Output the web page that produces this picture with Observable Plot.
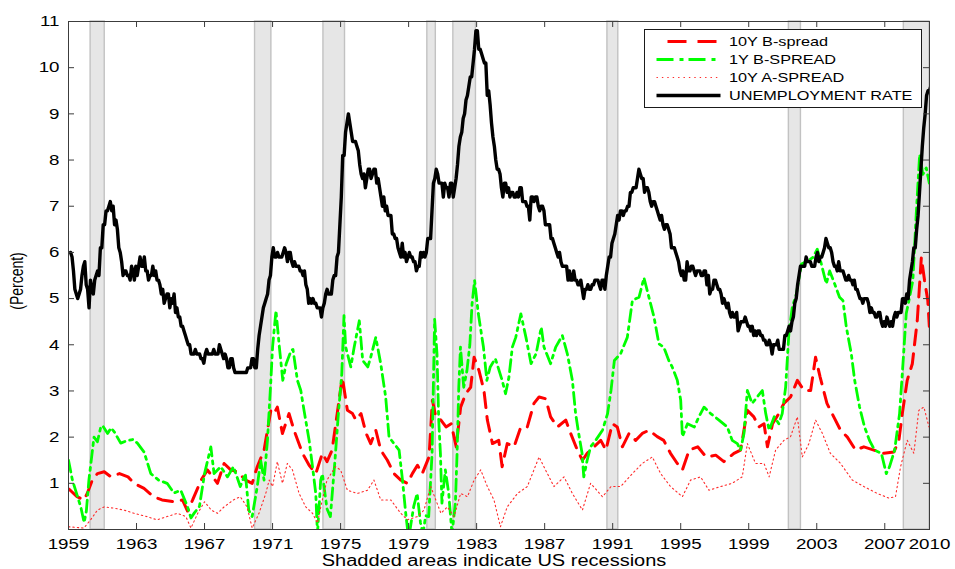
<!DOCTYPE html>
<html>
<head>
<meta charset="utf-8">
<script src="https://cdn.jsdelivr.net/npm/d3@7"></script>
<script src="https://cdn.jsdelivr.net/npm/@observablehq/plot@0.6"></script>
<style>
  html, body { margin: 0; padding: 0; background: #fff; }
  #chart svg { display: block; }
</style>
</head>
<body>
<div id="chart"></div>
<script>
// ---- Data -------------------------------------------------------------

// Monthly US unemployment rate (%), January 1959 onward.
// The first observation sits at 1959.125 on the time axis.
const unemploymentStartYear = 1959.125;
const unemploymentRate = [
  6.0,5.9,5.6,5.2,5.1,5.0,5.1,5.2,5.5,5.7,5.8,5.3,
  5.2,4.8,5.4,5.2,5.1,5.4,5.5,5.6,5.5,6.1,6.1,6.6,
  6.6,6.9,6.9,7.0,7.1,6.9,7.0,6.6,6.7,6.5,6.1,6.0,
  5.8,5.5,5.6,5.6,5.5,5.5,5.4,5.7,5.6,5.4,5.7,5.5,
  5.7,5.9,5.7,5.7,5.9,5.6,5.6,5.4,5.5,5.5,5.7,5.5,
  5.6,5.4,5.4,5.3,5.1,5.2,4.9,5.0,5.1,5.1,4.8,5.0,
  4.9,5.1,4.7,4.8,4.6,4.6,4.4,4.4,4.3,4.2,4.1,4.0,
  4.0,3.8,3.8,3.8,3.9,3.8,3.8,3.8,3.7,3.7,3.6,3.8,
  3.9,3.8,3.8,3.8,3.8,3.9,3.8,3.8,3.8,4.0,3.9,3.8,
  3.7,3.8,3.7,3.5,3.5,3.7,3.7,3.5,3.4,3.4,3.4,3.4,
  3.4,3.4,3.4,3.4,3.4,3.5,3.5,3.5,3.7,3.7,3.5,3.5,
  3.9,4.2,4.4,4.6,4.8,4.9,5.0,5.1,5.4,5.5,5.9,6.1,
  5.9,5.9,6.0,5.9,5.9,5.9,6.0,6.1,6.0,5.8,6.0,6.0,
  5.8,5.7,5.8,5.7,5.7,5.7,5.6,5.6,5.5,5.6,5.3,5.2,
  4.9,5.0,4.9,5.0,4.9,4.9,4.8,4.8,4.8,4.6,4.8,4.9,
  5.1,5.2,5.1,5.1,5.1,5.4,5.5,5.5,5.9,6.0,6.6,7.2,
  8.1,8.1,8.6,8.8,9.0,8.8,8.6,8.4,8.4,8.4,8.3,8.2,
  7.9,7.7,7.6,7.7,7.4,7.6,7.8,7.8,7.6,7.7,7.8,7.8,
  7.5,7.6,7.4,7.2,7.0,7.2,6.9,7.0,6.8,6.8,6.8,6.4,
  6.4,6.3,6.3,6.1,6.0,5.9,6.2,5.9,6.0,5.8,5.9,6.0,
  5.9,5.9,5.8,5.8,5.6,5.7,5.7,6.0,5.9,6.0,5.9,6.0,
  6.3,6.3,6.3,6.9,7.5,7.6,7.8,7.7,7.5,7.5,7.5,7.2,
  7.5,7.4,7.4,7.2,7.5,7.5,7.2,7.4,7.6,7.9,8.3,8.5,
  8.6,8.9,9.0,9.3,9.4,9.6,9.8,9.8,10.1,10.4,10.8,10.8,
  10.4,10.4,10.3,10.2,10.1,10.1,9.4,9.5,9.2,8.8,8.5,8.3,
  8.0,7.8,7.8,7.7,7.4,7.2,7.5,7.5,7.3,7.4,7.2,7.3,
  7.3,7.2,7.2,7.3,7.2,7.4,7.4,7.1,7.1,7.1,7.0,7.0,
  6.7,7.2,7.2,7.1,7.2,7.2,7.0,6.9,7.0,7.0,6.9,6.6,
  6.6,6.6,6.6,6.3,6.3,6.2,6.1,6.0,5.9,6.0,5.8,5.7,
  5.7,5.7,5.7,5.4,5.6,5.4,5.4,5.6,5.4,5.4,5.3,5.3,
  5.4,5.2,5.0,5.2,5.2,5.3,5.2,5.2,5.3,5.3,5.4,5.4,
  5.4,5.3,5.2,5.4,5.4,5.2,5.5,5.7,5.9,5.9,6.2,6.3,
  6.4,6.6,6.8,6.7,6.9,6.9,6.8,6.9,6.9,7.0,7.0,7.3,
  7.3,7.4,7.4,7.4,7.6,7.8,7.7,7.6,7.6,7.3,7.4,7.4,
  7.3,7.1,7.0,7.1,7.1,7.0,6.9,6.8,6.7,6.8,6.6,6.5,
  6.6,6.6,6.5,6.4,6.1,6.1,6.1,6.0,5.9,5.8,5.6,5.5,
  5.6,5.4,5.4,5.8,5.6,5.6,5.7,5.7,5.6,5.5,5.6,5.6,
  5.6,5.5,5.5,5.6,5.6,5.3,5.5,5.1,5.2,5.2,5.4,5.4,
  5.3,5.2,5.2,5.1,4.9,5.0,4.9,4.8,4.9,4.7,4.6,4.7,
  4.6,4.6,4.7,4.3,4.4,4.5,4.5,4.5,4.6,4.5,4.4,4.4,
  4.3,4.4,4.2,4.3,4.2,4.3,4.3,4.2,4.2,4.1,4.1,4.0,
  4.0,4.1,4.0,3.8,4.0,4.0,4.0,4.1,3.9,3.9,3.9,3.9,
  4.2,4.2,4.3,4.4,4.3,4.5,4.6,4.9,5.0,5.3,5.5,5.7,
  5.7,5.7,5.7,5.9,5.8,5.8,5.8,5.7,5.7,5.7,5.9,6.0,
  5.8,5.9,5.9,6.0,6.1,6.3,6.2,6.1,6.1,6.0,5.8,5.7,
  5.7,5.6,5.8,5.6,5.6,5.6,5.5,5.4,5.4,5.5,5.4,5.4,
  5.3,5.4,5.2,5.2,5.1,5.0,5.0,4.9,5.0,5.0,5.0,4.9,
  4.7,4.8,4.7,4.7,4.6,4.6,4.7,4.7,4.5,4.4,4.5,4.4,
  4.6,4.5,4.4,4.5,4.4,4.6,4.7,4.6,4.7,4.7,4.7,5.0,
  5.0,4.9,5.1,5.0,5.4,5.6,5.8,6.1,6.1,6.5,6.8,7.3,
  7.8,8.3,8.7,9.0,9.4,9.5,9.5,9.6
];

// 10-year Baa-type spread (%), [year, value]
const bSpread10Y = [
  [1959.0,0.88],[1959.1,0.85],[1959.5,0.71],[1959.9,0.64],[1960.1,0.78],[1960.4,1.07],[1960.7,1.21],
  [1961.1,1.25],[1961.5,1.14],[1962.0,1.21],[1962.5,1.14],[1962.86,1.0],[1963.44,0.89],[1964.0,0.71],
  [1964.5,0.64],[1965.2,0.60],[1965.7,0.64],[1966.0,0.40],[1966.3,0.64],[1966.8,1.07],[1967.17,1.29],
  [1967.76,1.0],[1968.15,1.43],[1968.54,1.29],[1968.93,1.25],[1969.42,1.07],[1969.8,1.0],[1970.1,1.36],
  [1970.5,1.72],[1970.9,2.58],[1971.08,2.51],[1971.28,2.65],[1971.58,2.08],[1971.97,2.51],[1972.26,2.15],
  [1972.76,1.65],[1973.15,1.39],[1973.54,1.21],[1973.93,1.65],[1974.2,1.47],[1974.5,1.72],[1974.8,2.51],
  [1975.1,3.30],[1975.4,2.58],[1975.7,2.51],[1975.9,2.37],[1976.2,2.51],[1976.5,2.08],[1976.77,1.86],
  [1977.07,2.15],[1977.36,1.72],[1977.75,1.50],[1978.14,1.21],[1978.54,1.07],[1978.93,1.0],[1979.22,1.21],
  [1979.52,1.39],[1979.8,1.21],[1980.2,1.57],[1980.4,2.80],[1980.6,2.44],[1980.9,2.37],[1981.2,2.22],
  [1981.5,2.29],[1981.8,1.79],[1982.06,2.65],[1982.36,2.94],[1982.65,3.08],[1982.85,3.73],[1983.14,3.44],
  [1983.43,3.01],[1983.63,2.37],[1983.93,1.86],[1984.3,1.93],[1984.5,1.36],[1984.8,1.86],[1985.2,1.79],
  [1985.6,2.22],[1985.98,2.22],[1986.37,2.73],[1986.67,2.87],[1987.06,2.83],[1987.35,2.44],[1987.75,2.22],
  [1988.24,2.37],[1988.53,2.08],[1988.92,1.72],[1989.22,1.50],[1989.5,1.65],[1989.9,1.79],[1990.3,1.93],
  [1990.6,1.72],[1990.98,2.29],[1991.27,2.22],[1991.57,1.79],[1991.96,2.08],[1992.35,1.93],[1992.74,2.08],
  [1993.13,2.15],[1993.62,2.01],[1994.0,1.93],[1994.4,1.65],[1994.8,1.43],[1995.1,1.29],[1995.5,1.72],
  [1996.0,1.79],[1996.5,1.57],[1997.06,1.61],[1997.54,1.47],[1998.13,1.65],[1998.52,1.72],[1998.92,2.58],
  [1999.3,2.44],[1999.6,2.22],[1999.9,2.29],[2000.1,1.79],[2000.4,2.29],[2000.77,2.51],[2001.07,2.73],
  [2001.46,2.87],[2001.86,3.23],[2002.25,3.01],[2002.64,3.01],[2002.93,3.73],[2003.2,3.30],[2003.6,2.73],
  [2004.0,2.44],[2004.4,2.15],[2004.8,2.0],[2005.28,1.72],[2005.77,1.79],[2006.36,1.72],[2006.95,1.65],
  [2007.54,1.68],[2007.83,1.93],[2008.03,2.51],[2008.32,3.23],[2008.62,3.59],[2008.91,4.52],[2009.15,5.89],
  [2009.34,5.39],[2009.53,4.96],[2009.62,4.4]
];

// 1-year Baa-type spread (%), [year, value]
const bSpread1Y = [
  [1959.0,1.50],[1959.23,1.07],[1959.5,0.75],[1959.72,0.49],[1959.92,0.15],[1960.05,0.40],[1960.2,1.07],
  [1960.5,2.0],[1960.7,1.9],[1960.9,2.22],[1961.0,2.25],[1961.3,2.08],[1961.5,2.2],[1961.7,2.11],
  [1962.07,1.87],[1962.47,1.93],[1962.8,1.95],[1963.05,1.87],[1963.44,1.68],[1963.84,1.21],[1964.3,1.07],
  [1964.8,1.0],[1965.2,0.79],[1965.6,0.85],[1966.0,0.49],[1966.2,0.25],[1966.4,0.36],[1966.7,0.5],
  [1967.0,1.21],[1967.37,1.79],[1967.56,1.21],[1967.95,1.36],[1968.35,1.14],[1968.7,1.36],[1969.1,0.93],
  [1969.4,1.21],[1969.6,0.42],[1969.8,0.28],[1970.1,0.93],[1970.3,1.5],[1970.5,1.07],[1970.7,1.93],
  [1970.9,3.23],[1971.0,3.95],[1971.2,4.74],[1971.4,3.95],[1971.6,3.23],[1971.8,3.59],[1972.1,3.88],
  [1972.2,3.9],[1972.46,3.23],[1972.66,3.01],[1972.85,2.58],[1973.15,1.93],[1973.35,1.36],[1973.54,0.78],
  [1973.64,-0.1],[1973.83,1.07],[1973.93,1.2],[1974.2,0.45],[1974.4,0.28],[1974.67,1.5],[1974.87,2.51],
  [1975.07,3.37],[1975.2,4.63],[1975.3,3.95],[1975.6,3.52],[1975.8,3.95],[1976.1,4.52],[1976.3,3.66],
  [1976.6,3.52],[1976.77,3.73],[1977.07,4.16],[1977.36,3.59],[1977.65,2.87],[1977.85,2.0],[1978.14,1.86],
  [1978.44,1.72],[1978.64,1.07],[1978.83,0.35],[1979.0,-0.2],[1979.3,0.5],[1979.5,0.78],[1979.7,0.14],
  [1979.85,-0.1],[1980.0,0.3],[1980.18,0.28],[1980.38,1.65],[1980.53,4.55],[1980.67,3.8],[1980.77,2.37],
  [1980.87,1.65],[1980.96,0.57],[1981.16,1.29],[1981.36,0.78],[1981.55,-0.1],[1981.75,0.57],[1981.85,1.65],
  [1981.95,3.08],[1982.05,3.95],[1982.24,3.08],[1982.43,3.44],[1982.6,4.0],[1982.73,4.88],[1982.88,5.39],
  [1983.1,4.67],[1983.4,3.95],[1983.6,3.23],[1983.8,3.52],[1984.1,3.70],[1984.5,3.23],[1984.7,2.94],
  [1984.9,3.30],[1985.1,3.95],[1985.3,4.16],[1985.6,4.67],[1985.9,4.16],[1986.2,3.59],[1986.5,3.81],
  [1986.8,4.38],[1986.96,3.95],[1987.35,3.59],[1987.65,3.95],[1988.04,4.2],[1988.33,3.81],[1988.63,3.23],
  [1988.82,2.51],[1989.0,2.08],[1989.2,1.65],[1989.3,1.14],[1989.5,1.50],[1989.7,1.79],[1990.0,1.93],
  [1990.4,2.15],[1990.7,2.51],[1990.9,3.01],[1991.1,3.66],[1991.47,3.81],[1991.86,4.16],[1992.16,4.96],
  [1992.55,5.03],[1992.84,5.45],[1993.13,5.03],[1993.43,4.60],[1993.72,4.02],[1994.0,3.95],[1994.3,3.66],
  [1994.5,3.52],[1994.8,3.23],[1995.0,2.80],[1995.1,2.01],[1995.4,2.29],[1995.8,2.22],[1996.07,2.44],
  [1996.37,2.65],[1996.76,2.51],[1997.25,2.37],[1997.74,2.22],[1998.03,1.93],[1998.33,1.86],[1998.52,1.72],
  [1998.72,2.08],[1998.92,3.01],[1999.2,2.73],[1999.5,2.87],[1999.8,3.01],[2000.0,2.51],[2000.2,2.15],
  [2000.5,2.44],[2000.77,2.29],[2000.97,2.51],[2001.17,3.08],[2001.36,4.24],[2001.56,4.81],[2001.8,5.10],
  [2002.1,5.75],[2002.48,5.82],[2002.77,5.89],[2003.03,6.07],[2003.27,5.75],[2003.56,5.32],[2003.76,5.60],
  [2004.05,5.32],[2004.34,5.03],[2004.54,4.96],[2004.74,4.38],[2005.03,3.81],[2005.23,3.23],[2005.52,2.65],
  [2005.81,2.22],[2006.1,1.93],[2006.4,1.72],[2006.8,1.65],[2007.09,1.21],[2007.28,1.36],[2007.58,1.72],
  [2007.87,2.51],[2008.07,3.59],[2008.26,4.67],[2008.46,5.03],[2008.65,5.39],[2008.85,6.83],[2009.05,8.12],
  [2009.24,7.69],[2009.44,7.83],[2009.62,7.5]
];

// 10-year A-type spread (%), [year, value]
const aSpread10Y = [
  [1959.0,0.06],[1959.9,0.03],[1960.3,0.21],[1960.7,0.42],[1961.1,0.49],[1961.7,0.46],[1962.27,0.42],
  [1962.86,0.35],[1963.6,0.28],[1964.2,0.21],[1964.8,0.28],[1965.4,0.35],[1965.9,0.28],[1966.2,0.03],
  [1966.6,0.35],[1967.0,0.60],[1967.4,0.42],[1967.76,0.35],[1968.15,0.49],[1968.7,0.64],[1969.1,0.71],
  [1969.5,0.49],[1969.8,0.03],[1970.2,0.35],[1970.6,0.78],[1970.8,1.07],[1971.0,0.93],[1971.28,1.47],
  [1971.58,1.0],[1971.87,1.43],[1972.17,1.29],[1972.56,0.78],[1972.95,0.49],[1973.35,0.35],[1973.64,0.14],
  [1973.9,0.6],[1974.2,1.07],[1974.7,1.36],[1975.0,1.29],[1975.4,0.85],[1975.99,0.78],[1976.58,0.85],
  [1976.96,1.07],[1977.36,0.64],[1977.95,0.64],[1978.54,0.35],[1978.93,0.21],[1979.52,0.28],[1979.9,0.42],
  [1980.3,0.93],[1980.6,0.64],[1980.9,0.35],[1981.28,0.49],[1981.67,0.28],[1982.06,0.78],[1982.46,0.71],
  [1982.85,1.07],[1983.24,1.29],[1983.63,0.93],[1984.02,0.64],[1984.4,0.06],[1984.8,0.49],[1985.4,0.78],
  [1985.98,0.93],[1986.67,1.57],[1987.16,1.21],[1987.55,0.93],[1988.14,1.14],[1988.63,0.78],[1989.22,0.42],
  [1989.7,1.0],[1990.4,0.71],[1990.9,0.93],[1991.47,0.93],[1992.16,1.21],[1992.74,1.43],[1993.33,1.57],
  [1993.82,1.21],[1994.4,0.93],[1995.1,0.71],[1995.58,1.07],[1996.17,1.14],[1996.66,0.85],[1997.35,0.93],
  [1998.03,1.0],[1998.62,1.14],[1998.92,1.86],[1999.4,1.43],[1999.9,1.43],[2000.2,1.14],[2000.58,1.72],
  [2001.07,1.93],[2001.46,2.01],[2001.86,2.44],[2002.15,1.57],[2002.54,1.86],[2002.93,2.37],[2003.33,2.08],
  [2003.8,1.65],[2004.4,1.43],[2005.09,1.07],[2005.77,0.93],[2006.56,0.78],[2007.24,0.68],[2007.63,0.71],
  [2007.93,1.36],[2008.32,1.93],[2008.71,1.65],[2009.0,2.58],[2009.3,2.65],[2009.6,2.22]
];

// US recessions (shaded), start and end as decimal years
const recessionStarts = [1960.30, 1969.97, 1973.99, 1980.10, 1981.63, 1990.69, 2001.36, 2008.12];
const recessionEnds   = [1961.13, 1970.93, 1975.26, 1980.60, 1982.96, 1991.33, 2002.07, 2009.63];

// Axes
const xDomain = [1959, 2009.63];
const xTickValues = [1959, 1963, 1967, 1971, 1975, 1979, 1983, 1987, 1991, 1995, 1999, 2003, 2007, 2009.63];
const xTickLabels = ["1959","1963","1967","1971","1975","1979","1983","1987","1991","1995","1999","2003","2007","2010"];
const yTickValues = [1, 2, 3, 4, 5, 6, 7, 8, 9, 10, 11];

const seriesNames = ["10Y B-spread", "1Y B-SPREAD", "10Y A-SPREAD", "UNEMPLOYMENT RATE"];
const yAxisTitle = "(Percent)";
const xAxisTitle = "Shadded areas indicate US recessions";

// ---- Tables -----------------------------------------------------------
const unemployment = unemploymentRate.map((v, i) => ({year: unemploymentStartYear + i / 12, value: v}));
const toRows = (arr) => arr.map(([year, value]) => ({year, value}));
const recessions = recessionStarts.map((s, i) => ({start: s, end: recessionEnds[i]}));
const xLabelOf = new Map(xTickValues.map((v, i) => [v, xTickLabels[i]]));

// ---- Layout & styles --------------------------------------------------
const W = 955, H = 569;
const M = {left: 68, right: 26, top: 21, bottom: 40};
const plotW = W - M.left - M.right;
const plotH = H - M.top - M.bottom;
const TICK = 6;
const AXIS = "#3c3c3c";
const FONT = "'Liberation Sans', Arial, Helvetica, sans-serif";
const TEXT_STRETCH = 1.25;

const styles = {
  b10: {stroke: "#ff0000", strokeWidth: 3, strokeDasharray: "15,9"},
  b1:  {stroke: "#00ff00", strokeWidth: 2.8, strokeDasharray: "12,5,3,5"},
  a10: {stroke: "#ff2a2a", strokeWidth: 1.1, strokeDasharray: "1.4,3"},
  un:  {stroke: "#000000", strokeWidth: 3.4}
};

const chart = Plot.plot({
  width: W,
  height: H,
  marginLeft: M.left,
  marginRight: M.right,
  marginTop: M.top,
  marginBottom: M.bottom,
  style: {fontFamily: FONT, fontSize: "15px", color: "#000", background: "#fff", overflow: "visible"},
  x: {type: "linear", domain: xDomain},
  y: {type: "linear", domain: [0, 11]},
  marks: [
    Plot.rect(recessions, {x1: "start", x2: "end", fill: "#e6e6e6", stroke: "#c2c2c2", strokeWidth: 1.4}),
    Plot.line(toRows(bSpread10Y), {x: "year", y: "value", ...styles.b10, clip: true}),
    Plot.line(toRows(bSpread1Y), {x: "year", y: "value", ...styles.b1, clip: true}),
    Plot.line(toRows(aSpread10Y), {x: "year", y: "value", ...styles.a10, clip: true}),
    Plot.line(unemployment, {x: "year", y: "value", ...styles.un, strokeLinejoin: "round", clip: true}),
    // inward ticks on all four sides
    Plot.ruleX(xTickValues, {x: d => d, insetTop: plotH - TICK, stroke: AXIS}),
    Plot.ruleX(xTickValues, {x: d => d, insetBottom: plotH - TICK, stroke: AXIS}),
    Plot.ruleY(yTickValues, {y: d => d, insetRight: plotW - TICK, stroke: AXIS}),
    Plot.ruleY(yTickValues, {y: d => d, insetLeft: plotW - TICK, stroke: AXIS}),
    Plot.axisX({ticks: xTickValues, tickFormat: d => xLabelOf.get(d), tickSize: 0, tickPadding: 9, label: null}),
    Plot.axisY({ticks: yTickValues, tickFormat: d => String(d), tickSize: 0, tickPadding: 9, label: null}),
    Plot.frame({stroke: AXIS, strokeWidth: 1}),
    Plot.text([xAxisTitle], {text: d => d, frameAnchor: "bottom", lineAnchor: "top", dy: 25, dx: -5, fontSize: 16})
  ]
});

document.getElementById("chart").appendChild(chart);
const svgNode = chart.tagName.toLowerCase() === "svg" ? chart : chart.querySelector("svg");
const svg = d3.select(svgNode);

// ---- Y-axis title (vertical, type widened across its height) ------------
svg.append("text")
  .attr("transform", `translate(${M.left - 51},${M.top + plotH / 2 + 6}) rotate(-90) scale(1,${TEXT_STRETCH})`)
  .attr("text-anchor", "middle")
  .attr("dy", "0.35em")
  .attr("font-family", FONT)
  .attr("font-size", 14)
  .attr("fill", "#000")
  .text(yAxisTitle);

// ---- Legend (top-right corner inside the axes box) ---------------------
const legendW = 277, legendH = 78, legendInset = 8;
const lx = W - M.right - legendInset - legendW;
const ly = M.top + legendInset;
const legend = svg.append("g")
  .attr("font-family", FONT)
  .attr("font-size", 13)
  .attr("text-anchor", "start");
legend.append("rect")
  .attr("x", lx + 0.5).attr("y", ly + 0.5)
  .attr("width", legendW).attr("height", legendH)
  .attr("fill", "#fff").attr("stroke", "#1a1a1a").attr("stroke-width", 1);
const legendStyles = [
  {...styles.b10, strokeDasharray: "19,11", dashOffset: 19},
  {...styles.b1, strokeDasharray: "17,6,4,5"},
  {...styles.a10, strokeDasharray: "1.4,4"},
  styles.un
];
seriesNames.forEach((name, i) => {
  const cy = ly + 12.5 + i * 18;
  const st = legendStyles[i];
  legend.append("line")
    .attr("x1", lx + 12.5).attr("x2", lx + 76.5)
    .attr("y1", cy).attr("y2", cy)
    .attr("stroke", st.stroke).attr("stroke-width", st.strokeWidth)
    .attr("stroke-dasharray", st.strokeDasharray || null)
    .attr("stroke-dashoffset", st.dashOffset || null);
  legend.append("text")
    .attr("x", lx + 85).attr("y", cy).attr("dy", "0.36em")
    .attr("fill", "#000")
    .text(name);
});

// ---- Widen horizontal text (the figure's type is set wide) -------------
svgNode.querySelectorAll("text").forEach(t => {
  const tr = t.getAttribute("transform") || "";
  if (tr.includes("rotate")) return;
  const xs = t.getAttribute("x"), ys = t.getAttribute("y");
  const x = xs !== null && !isNaN(+xs) ? +xs : 0;
  const y = ys !== null && !isNaN(+ys) ? +ys : 0;
  if (xs !== null && !isNaN(+xs)) t.removeAttribute("x");
  if (ys !== null && !isNaN(+ys)) t.removeAttribute("y");
  t.setAttribute("transform", `${tr} translate(${x},${y}) scale(${TEXT_STRETCH},1)`.trim());
});
</script>
</body>
</html>
